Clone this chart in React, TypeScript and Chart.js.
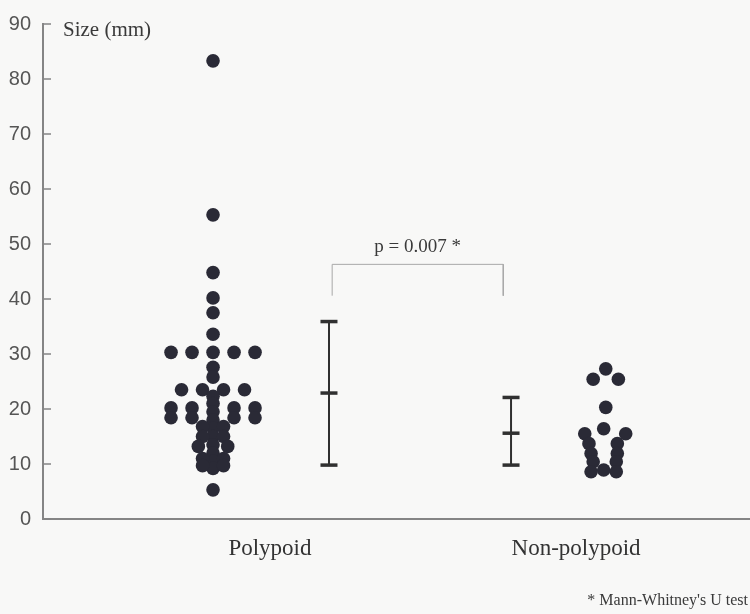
import React, { useEffect, useRef } from 'react';
import { Chart, registerables } from 'chart.js';

Chart.register(...registerables);

// ---- data ----
const categories = ['Polypoid', 'Non-polypoid'];

const polypoidValues = [
  83.3, 55.3, 44.8, 40.2, 37.5, 33.6,
  30.3, 30.3, 30.3, 30.3, 30.3,
  27.6, 25.8,
  23.5, 23.5, 23.5, 23.5,
  22.3, 21.0, 19.5, 18.0, 16.5, 15.0, 13.5, 12.0, 10.5, 9.2,
  20.2, 18.4, 20.2, 18.4,
  20.2, 18.4, 20.2, 18.4,
  16.8, 16.8, 15.0, 15.0,
  13.2, 13.2,
  11.0, 11.0, 9.7, 9.7,
  5.3,
];
const polypoidSwarmColumn = [
  0, 0, 0, 0, 0, 0,
  -2, -1, 0, 1, 2,
  0, 0,
  -1.5, -0.5, 0.5, 1.5,
  0, 0, 0, 0, 0, 0, 0, 0, 0, 0,
  -2, -2, 2, 2,
  -1, -1, 1, 1,
  -0.5, 0.5, -0.5, 0.5,
  -0.7, 0.7,
  -0.5, 0.5, -0.5, 0.5,
  0,
];

const nonPolypoidValues = [
  27.3, 25.4, 25.4,
  20.3,
  15.5, 16.4, 15.5,
  13.7, 13.7,
  11.9, 11.9,
  10.4, 10.4,
  8.6, 8.9, 8.6,
];
const nonPolypoidSwarmColumn = [
  0, -0.6, 0.6,
  0,
  -1, -0.1, 0.95,
  -0.8, 0.55,
  -0.7, 0.55,
  -0.6, 0.5,
  -0.7, -0.1, 0.5,
];

const errorBarMean = [22.9, 15.6];
const errorBarLow = [9.8, 9.8];
const errorBarHigh = [35.9, 22.1];

const bracketTop = 46.3;
const bracketFoot = 40.6;
const pValueLabel = 'p = 0.007 *';

const yTicks = [0, 10, 20, 30, 40, 50, 60, 70, 80, 90];
const yAxisTitle = 'Size (mm)';
const footnote = "* Mann-Whitney's U test";

// ---- layout (x positions in axis units) ----
const X_DOTS = [2.405, 7.96];
const X_BARS = [4.045, 6.62];
const X_LABELS = [3.21, 7.54];
const X_BRACKET = [4.09, 6.51];
const SLOT = 0.297;

const DOT_COLOR = '#2a2a36';
const BAR_COLOR = '#303030';
const AXIS_COLOR = '#858585';

export default function App() {
  const ref = useRef<HTMLCanvasElement | null>(null);

  useEffect(() => {
    document.body.style.margin = '0';
    const canvas = ref.current;
    if (!canvas) return;

    const dots0 = polypoidValues.map((v, i) => ({ x: X_DOTS[0] + polypoidSwarmColumn[i] * SLOT, y: v }));
    const dots1 = nonPolypoidValues.map((v, i) => ({ x: X_DOTS[1] + nonPolypoidSwarmColumn[i] * SLOT, y: v }));

    const stems = categories.map((_, i) => ({
      type: 'scatter' as const,
      data: [
        { x: X_BARS[i], y: errorBarLow[i] },
        { x: X_BARS[i], y: errorBarHigh[i] },
      ],
      showLine: true,
      borderColor: BAR_COLOR,
      borderWidth: 2,
      pointRadius: 0,
    }));

    const caps = categories.map((_, i) => ({
      type: 'scatter' as const,
      data: [
        { x: X_BARS[i], y: errorBarLow[i] },
        { x: X_BARS[i], y: errorBarMean[i] },
        { x: X_BARS[i], y: errorBarHigh[i] },
      ],
      pointStyle: 'line' as const,
      pointRadius: 8.5,
      borderColor: BAR_COLOR,
      backgroundColor: BAR_COLOR,
      borderWidth: 3.5,
    }));

    const bracket = {
      type: 'scatter' as const,
      data: [
        { x: X_BRACKET[0], y: bracketFoot },
        { x: X_BRACKET[0], y: bracketTop },
        { x: X_BRACKET[1], y: bracketTop },
        { x: X_BRACKET[1], y: bracketFoot },
      ],
      showLine: true,
      borderColor: '#a8a8a8',
      borderWidth: 1,
      pointRadius: 0,
    };

    const decor = {
      id: 'decor',
      beforeDraw(chart: any) {
        const c = chart.ctx;
        c.save();
        c.fillStyle = '#f8f8f7';
        c.fillRect(0, 0, chart.width, chart.height);
        c.restore();
      },
      afterDraw(chart: any) {
        const c = chart.ctx;
        const ys = chart.scales.y;
        const xs = chart.scales.x;
        const left = chart.chartArea.left;
        c.save();
        // inward tick marks
        c.strokeStyle = AXIS_COLOR;
        c.lineWidth = 1.5;
        yTicks.forEach((t) => {
          const py = ys.getPixelForValue(t);
          c.beginPath();
          c.moveTo(left, py);
          c.lineTo(left + 8, py);
          c.stroke();
        });
        // texts
        c.fillStyle = '#3a3a3a';
        c.font = '21px "Liberation Serif", serif';
        c.textAlign = 'left';
        c.textBaseline = 'middle';
        c.fillText(yAxisTitle, 63, 30);

        c.font = '19px "Liberation Serif", serif';
        c.textAlign = 'center';
        c.textBaseline = 'alphabetic';
        const px = (xs.getPixelForValue(X_BRACKET[0]) + xs.getPixelForValue(X_BRACKET[1])) / 2;
        c.fillText(pValueLabel, px, ys.getPixelForValue(bracketTop) - 12);

        c.font = '16px "Liberation Serif", serif';
        c.textAlign = 'right';
        c.textBaseline = 'middle';
        c.fillText(footnote, 748, 601);
        c.restore();
      },
    };

    const chart = new Chart(canvas, {
      type: 'scatter',
      data: {
        datasets: [
          bracket,
          ...stems,
          ...caps,
          { data: dots0, pointRadius: 6.8, backgroundColor: DOT_COLOR, borderWidth: 0 },
          { data: dots1, pointRadius: 6.8, backgroundColor: DOT_COLOR, borderWidth: 0 },
        ] as any,
      },
      options: {
        animation: false,
        responsive: true,
        maintainAspectRatio: false,
        layout: { autoPadding: false, padding: { top: 22, left: 0, right: 0, bottom: 0 } },
        plugins: { legend: { display: false }, tooltip: { enabled: false } },
        scales: {
          x: {
            type: 'linear',
            min: 0,
            max: 10,
            afterFit: (s: any) => {
              s.height = 95;
              s.paddingLeft = 0;
              s.paddingRight = 0;
            },
            afterBuildTicks: (s: any) => { s.ticks = X_LABELS.map((v) => ({ value: v })); },
            grid: { display: false, drawTicks: false },
            border: { display: true, color: AXIS_COLOR, width: 2 },
            ticks: {
              padding: 16,
              autoSkip: false,
              maxRotation: 0,
              color: '#333',
              font: { family: '"Liberation Serif", serif', size: 23 },
              callback: (v: any) => {
                const i = X_LABELS.indexOf(Number(v));
                return i >= 0 ? categories[i] : '';
              },
            },
          },
          y: {
            min: 0,
            max: 90,
            afterFit: (s: any) => { s.width = 43; },
            afterBuildTicks: (s: any) => { s.ticks = yTicks.map((v) => ({ value: v })); },
            grid: { display: false, drawTicks: false },
            border: { display: true, color: AXIS_COLOR, width: 2 },
            ticks: {
              padding: 12,
              color: '#555',
              font: { family: '"Liberation Sans", Arial, sans-serif', size: 20 },
            },
          },
        },
      },
      plugins: [decor],
    });

    return () => chart.destroy();
  }, []);

  return (
    <div style={{ width: 750, height: 614, position: 'relative' }}>
      <canvas ref={ref} />
    </div>
  );
}
